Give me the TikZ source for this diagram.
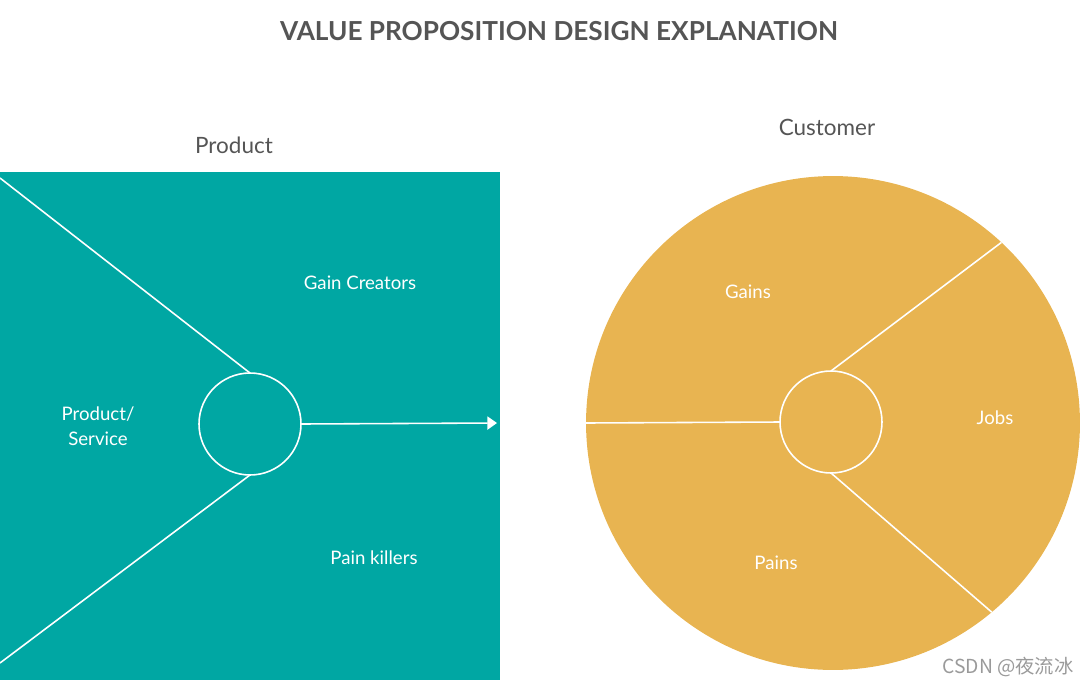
\documentclass[tikz,border=0pt]{standalone}
\usepackage{fontspec}
\setmainfont{Lato}
\newfontfamily\cjkfont{Noto Sans CJK SC}
\usetikzlibrary{arrows.meta}
\definecolor{cprod}{HTML}{00A7A3}
\definecolor{ccust}{HTML}{E8B451}
\definecolor{ctext}{HTML}{555555}
\definecolor{cmark}{HTML}{9A9A9A}

\begin{document}
\begin{tikzpicture}[x=0.02cm,y=-0.02cm,>={Triangle[length=5.5pt,width=7.5pt]},
  hub/.style={circle,draw=white,line width=0.9pt,minimum size=2.04cm,inner sep=0pt,outer sep=0pt},
  seg/.style={white,line width=0.9pt},
  lbl/.style={white,font=\fontsize{10.6}{14.2}\selectfont,align=center},
  head/.style={ctext,font=\fontsize{12.8}{15}\selectfont}]
  \useasboundingbox (0,0) rectangle (1089,687);
  \node[ctext,font=\bfseries\fontsize{14.9}{17}\selectfont] (title) at (559,31) {VALUE PROPOSITION DESIGN EXPLANATION};
  \node[head] (prodhead) at (234,145) {Product};
  \node[head] (custhead) at (827,127) {Customer};

  \fill[cprod] (0,172) rectangle (500,680);
  \node[hub] (hubL) at (250,424) {};
  \coordinate (topL) at (0,178);
  \coordinate (botL) at (0,663);
  \coordinate (tipL) at (497,423);
  \draw[seg] (topL) -- (hubL.north);
  \draw[seg] (botL) -- (hubL.south);
  \draw[seg,->] (hubL.east) -- (tipL);
  \node[lbl] (service) at (98,426) {Product/\\Service};
  \node[lbl] (gaincr) at (360,283) {Gain Creators};
  \node[lbl] (painkl) at (374,558) {Pain killers};

  \node[circle,fill=ccust,minimum size=9.88cm,inner sep=0pt,outer sep=0pt] (cust) at (833,423) {};
  \node[hub] (hubR) at (831,422) {};
  \draw[seg] (hubR.north) -- (cust.47.8);
  \draw[seg] (hubR.south) -- (cust.-50.6);
  \draw[seg] (hubR.west) -- (cust.west);
  \node[lbl] (gains) at (748,292) {Gains};
  \node[lbl] (jobs) at (995,418) {Jobs};
  \node[lbl] (pains) at (776,563) {Pains};

  \node[cmark,font=\cjkfont\fontsize{11}{12}\selectfont] (mark) at (1008,667) {CSDN @夜流冰};
\end{tikzpicture}
\end{document}
